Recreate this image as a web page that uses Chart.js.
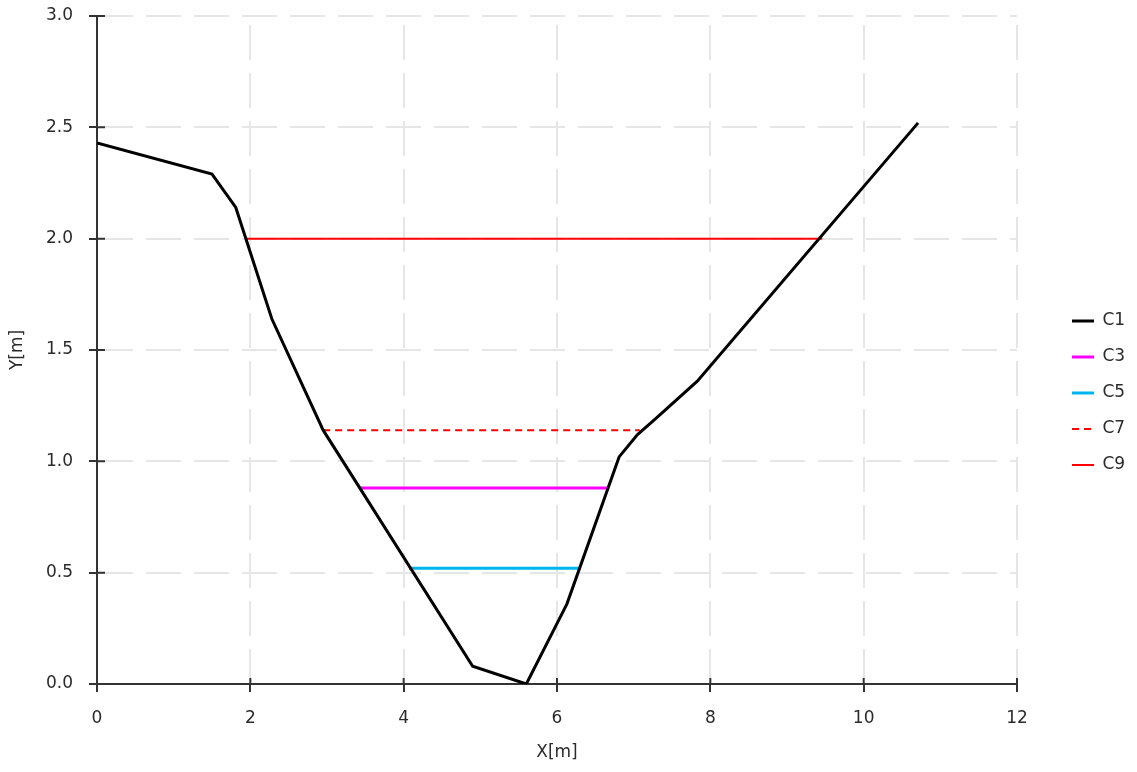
<!DOCTYPE html>
<html>
<head>
<meta charset="utf-8">
<title>Cross-section profile</title>
<script src="https://cdn.jsdelivr.net/npm/chart.js@4.4.1/dist/chart.umd.min.js"></script>
<style>
  html, body { margin: 0; padding: 0; background: #ffffff; }
  #wrap { width: 1137px; height: 772px; }
</style>
</head>
<body>
<div id="wrap"><canvas id="c" width="1137" height="772"></canvas></div>
<script>
// Ground profile of the channel cross-section (C1)
const profileX = [0, 1.5, 1.81, 2.28, 2.95, 4.9, 5.6, 6.13, 6.81, 7.05, 7.28, 7.83, 10.71];
const profileY = [2.43, 2.29, 2.14, 1.64, 1.14, 0.08, 0.0, 0.36, 1.02, 1.12, 1.19, 1.36, 2.52];

// Water levels: [x start, x end] at a constant level
const levelNames = ['C3', 'C5', 'C7', 'C9'];
const levelX = [[3.42, 6.67], [4.07, 6.3], [2.95, 7.08], [1.95, 9.46]];
const levelY = [0.88, 0.52, 1.14, 2.0];

const xTicks = [0, 2, 4, 6, 8, 10, 12];
const yTicks = [0, 0.5, 1.0, 1.5, 2.0, 2.5, 3.0];

const FONT = { family: 'DejaVu Sans', size: 17 };
const TEXT = '#2b2b2b';
const AXIS = '#333333';

const styles = {
  C1: { color: '#000000', width: 3, dash: [] },
  C3: { color: '#ff00ff', width: 3, dash: [] },
  C5: { color: '#00b4f0', width: 3, dash: [] },
  C7: { color: '#ff0000', width: 2, dash: [7, 5] },
  C9: { color: '#ff0000', width: 2, dash: [] }
};

const datasets = [{
  label: 'C1',
  data: profileX.map((x, i) => ({ x: x, y: profileY[i] })),
  borderColor: styles.C1.color,
  borderWidth: styles.C1.width,
  borderDash: styles.C1.dash,
  pointRadius: 0,
  tension: 0,
  order: 0
}];
levelNames.forEach((name, i) => {
  datasets.push({
    label: name,
    data: levelX[i].map(x => ({ x: x, y: levelY[i] })),
    borderColor: styles[name].color,
    borderWidth: styles[name].width,
    borderDash: styles[name].dash,
    pointRadius: 0,
    order: 1
  });
});

// Short tick marks on the inner side of both axes
const innerTicks = {
  id: 'innerTicks',
  afterDatasetsDraw(chart) {
    const { ctx, scales: { x, y } } = chart;
    ctx.save();
    ctx.strokeStyle = AXIS;
    ctx.lineWidth = 2;
    ctx.beginPath();
    xTicks.forEach(v => {
      const px = x.getPixelForValue(v);
      ctx.moveTo(px, y.bottom);
      ctx.lineTo(px, y.bottom - 6);
    });
    yTicks.forEach(v => {
      const py = y.getPixelForValue(v);
      ctx.moveTo(x.left, py);
      ctx.lineTo(x.left + 8, py);
    });
    ctx.stroke();
    ctx.restore();
  }
};

// Fixed width for the legend column, entries set in from its left edge
const legendPlacement = {
  id: 'legendPlacement',
  beforeInit(chart) {
    const fit = chart.legend.fit;
    chart.legend.fit = function () {
      fit.call(this);
      this.width = 120;
    };
  },
  afterLayout(chart) {
    chart.legend.left += 36;
    chart.legend.top += 7;
    chart.legend.bottom += 7;
  }
};

new Chart(document.getElementById('c'), {
  type: 'line',
  data: { datasets: datasets },
  plugins: [innerTicks, legendPlacement],
  options: {
    responsive: false,
    animation: false,
    layout: { padding: { top: 0, right: 0, bottom: 0, left: 0 } },
    plugins: {
      tooltip: { enabled: false },
      legend: {
        position: 'right',
        align: 'center',
        labels: {
          font: FONT,
          color: TEXT,
          usePointStyle: true,
          pointStyle: 'line',
          pointStyleWidth: 22,
          boxHeight: 10,
          padding: 19,
          generateLabels(chart) {
            return chart.data.datasets.map((ds, i) => ({
              text: ds.label,
              strokeStyle: ds.borderColor,
              fillStyle: ds.borderColor,
              fontColor: TEXT,
              lineWidth: ds.borderWidth,
              lineDash: ds.borderDash,
              pointStyle: 'line',
              hidden: false,
              datasetIndex: i
            }));
          }
        }
      }
    },
    scales: {
      x: {
        type: 'linear',
        min: 0,
        max: 12,
        afterBuildTicks(scale) { scale.ticks = xTicks.map(v => ({ value: v })); },
        afterFit(scale) { scale.height = 88; },
        ticks: { font: FONT, color: TEXT, padding: 16, callback: v => String(v) },
        grid: { color: '#e6e6e6', lineWidth: 2, tickColor: AXIS, tickWidth: 2, tickLength: 8 },
        border: { color: AXIS, width: 2, dash: [35, 13], dashOffset: 39 },
        title: { display: true, text: 'X[m]', font: FONT, color: TEXT, padding: { top: 4, bottom: 9 } }
      },
      y: {
        type: 'linear',
        min: 0,
        max: 3,
        afterBuildTicks(scale) { scale.ticks = yTicks.map(v => ({ value: v })); },
        afterFit(scale) { scale.width = 97; scale.paddingTop = 16; scale.paddingBottom = 0; },
        ticks: { font: FONT, color: TEXT, padding: 16, callback: v => Number(v).toFixed(1) },
        grid: { color: '#e6e6e6', lineWidth: 2, tickColor: AXIS, tickWidth: 2, tickLength: 8 },
        border: { color: AXIS, width: 2, dash: [35, 13], dashOffset: 0 },
        title: { display: true, text: 'Y[m]', font: FONT, color: TEXT, padding: { top: 7, bottom: 4 } }
      }
    }
  }
});
</script>
</body>
</html>
